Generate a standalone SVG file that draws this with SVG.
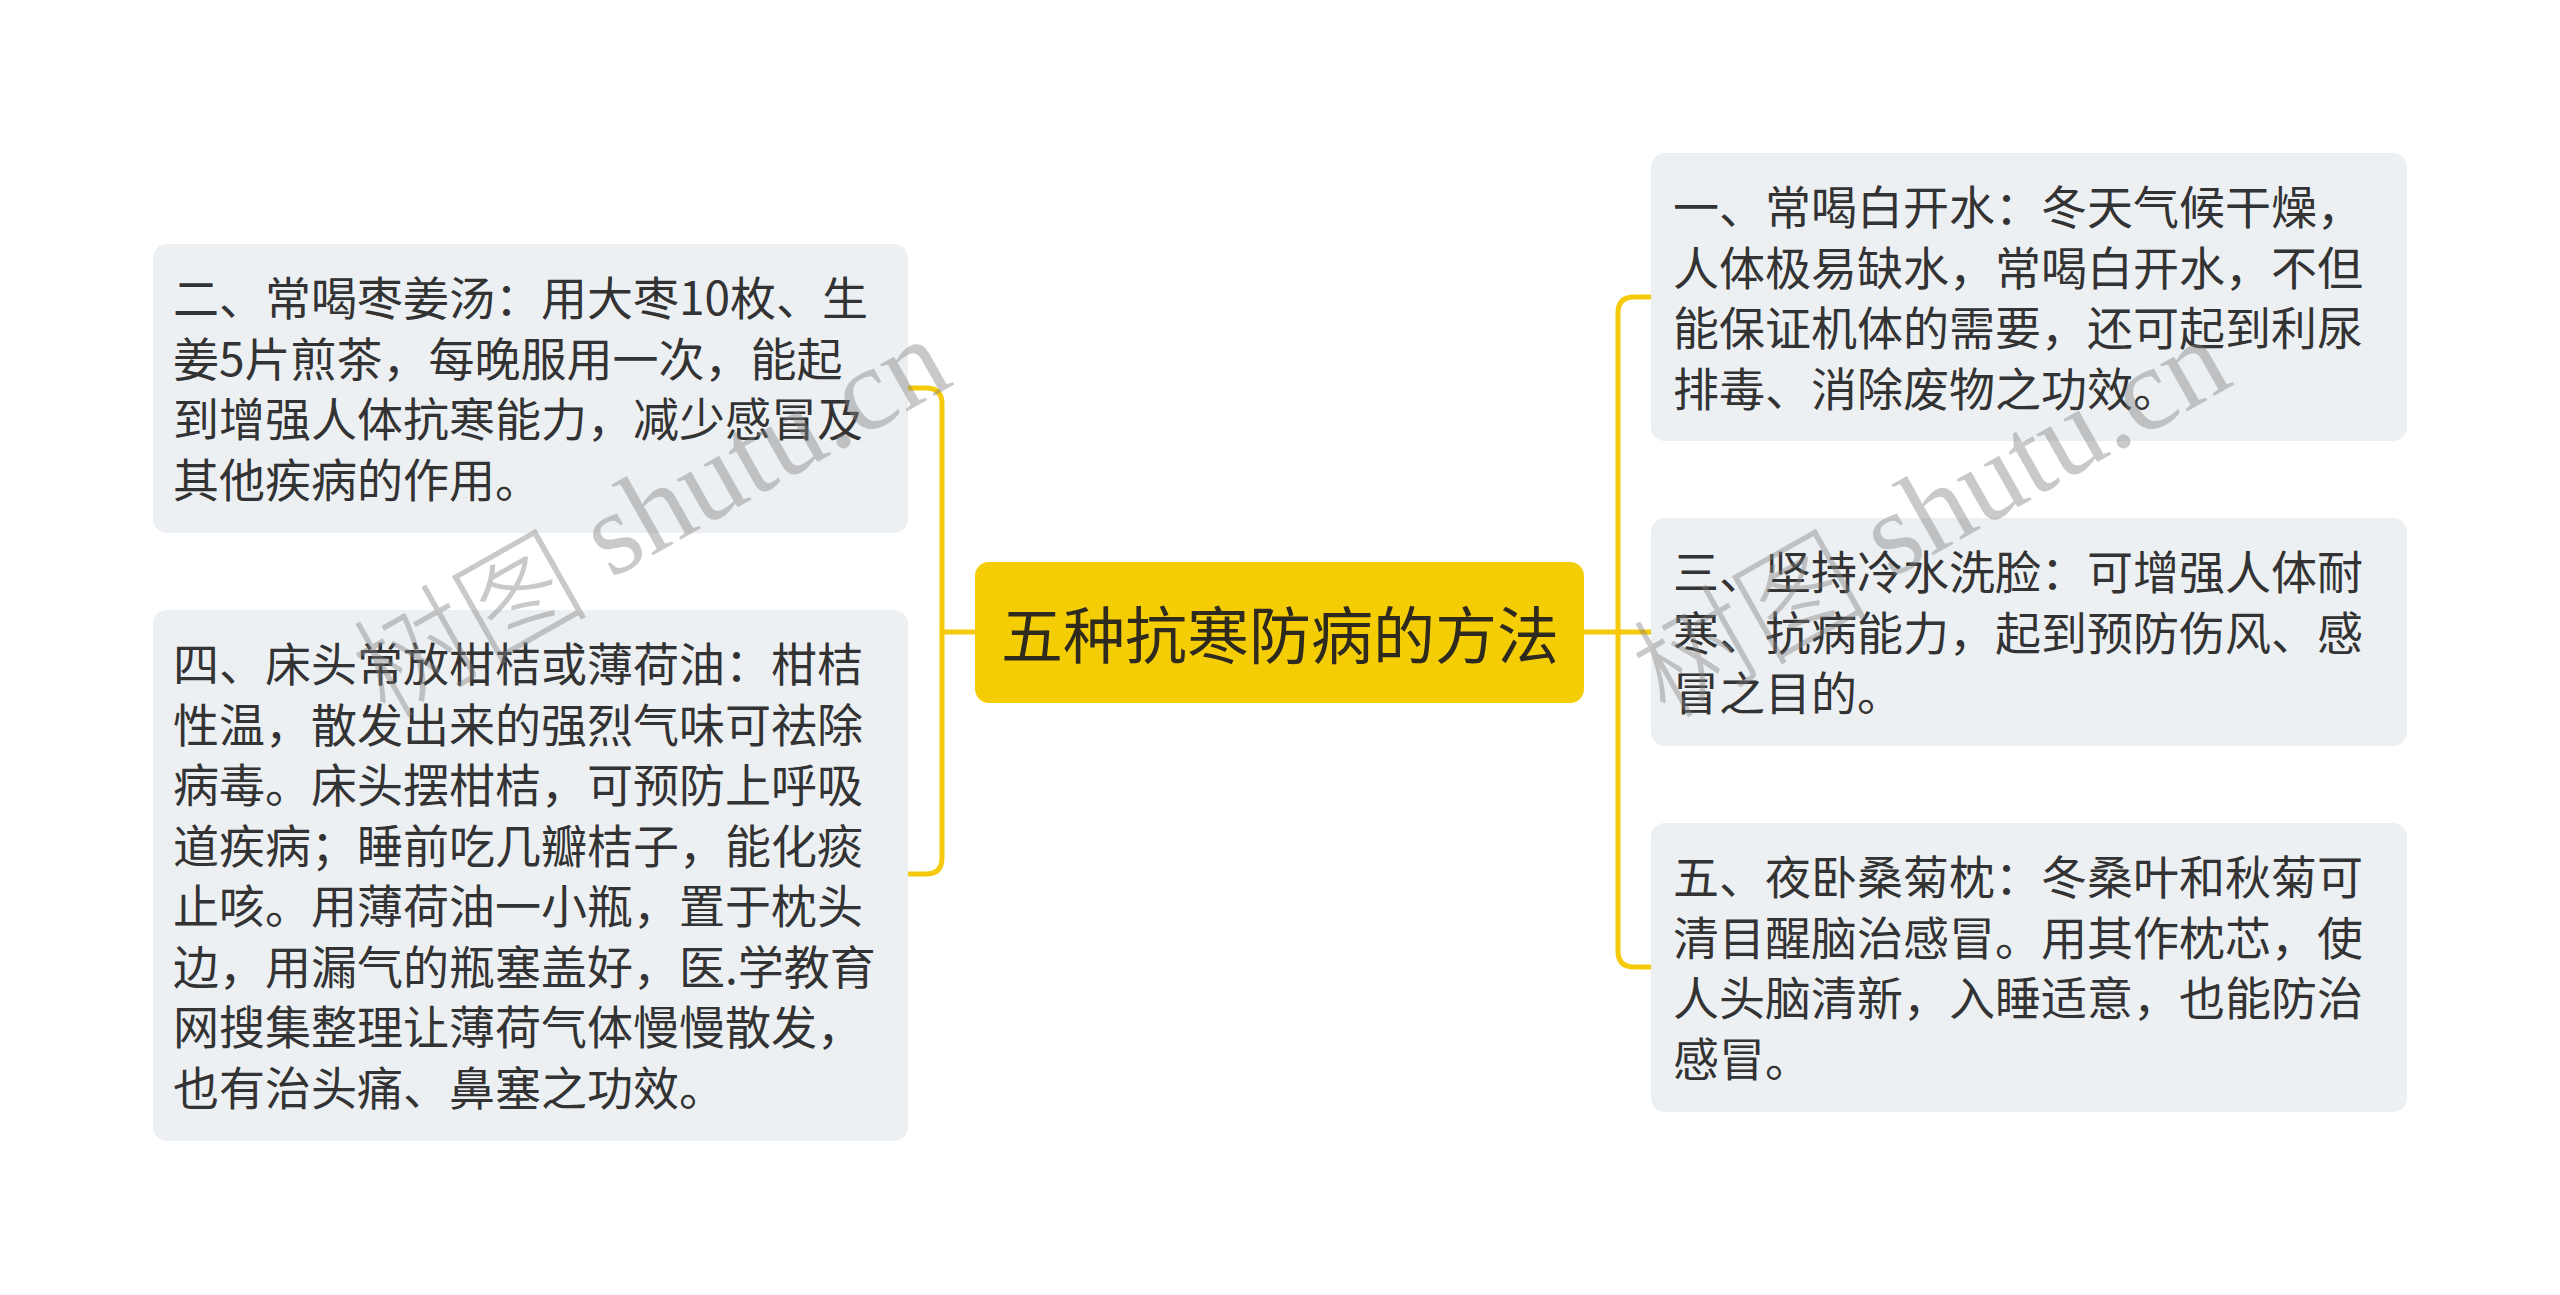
<svg xmlns="http://www.w3.org/2000/svg" width="2560" height="1295" viewBox="0 0 2560 1295">
<style>
.bg{fill:#ffffff}
.box{fill:#EDF0F3}
.root{fill:#F5CD05}
.t{font-family:"Noto Sans CJK SC","Noto Sans",sans-serif;font-size:46px;fill:#333333}
.rt{font-family:"Noto Sans CJK SC","Noto Sans",sans-serif;font-size:62px;fill:#2E2A1E}
.conn{fill:none;stroke:#F5CA0A;stroke-width:5;stroke-linecap:round;stroke-linejoin:round}
.wm{fill:#7f7f7f;opacity:0.42;font-size:118px}
</style>
<rect class="bg" x="0" y="0" width="2560" height="1295"/>
<g id="connectors">
<path class="conn" d="M975,632 H942"/>
<path class="conn" d="M908,388 H926 Q942,388 942,404 V858 Q942,874 926,874 H908"/>
<path class="conn" d="M1584,632 H1651"/>
<path class="conn" d="M1651,297 H1634 Q1618,297 1618,313 V951 Q1618,967 1634,967 H1651"/>
</g>
<g id="root">
<rect class="root" x="975" y="562" width="609" height="141" rx="14"/>
<text class="rt" x="1280" y="632" text-anchor="middle" dominant-baseline="central">五种抗寒防病的方法</text>
</g>
<g id="node-2">
<rect class="box" x="153" y="244" width="755" height="289" rx="14"/>
<text class="t" x="173" y="315">二、常喝枣姜汤：用大枣10枚、生</text>
<text class="t" x="173" y="375.5">姜5片煎茶，每晚服用一次，能起</text>
<text class="t" x="173" y="436">到增强人体抗寒能力，减少感冒及</text>
<text class="t" x="173" y="496.5">其他疾病的作用。</text>
</g>
<g id="node-4">
<rect class="box" x="153" y="610" width="755" height="531" rx="14"/>
<text class="t" x="173" y="681">四、床头常放柑桔或薄荷油：柑桔</text>
<text class="t" x="173" y="741.5">性温，散发出来的强烈气味可祛除</text>
<text class="t" x="173" y="802">病毒。床头摆柑桔，可预防上呼吸</text>
<text class="t" x="173" y="862.5">道疾病；睡前吃几瓣桔子，能化痰</text>
<text class="t" x="173" y="923">止咳。用薄荷油一小瓶，置于枕头</text>
<text class="t" x="173" y="983.5">边，用漏气的瓶塞盖好，医.学教育</text>
<text class="t" x="173" y="1044">网搜集整理让薄荷气体慢慢散发，</text>
<text class="t" x="173" y="1104.5">也有治头痛、鼻塞之功效。</text>
</g>
<g id="node-1">
<rect class="box" x="1651" y="153" width="756" height="288" rx="14"/>
<text class="t" x="1673" y="224">一、常喝白开水：冬天气候干燥，</text>
<text class="t" x="1673" y="284.5">人体极易缺水，常喝白开水，不但</text>
<text class="t" x="1673" y="345">能保证机体的需要，还可起到利尿</text>
<text class="t" x="1673" y="405.5">排毒、消除废物之功效。</text>
</g>
<g id="node-3">
<rect class="box" x="1651" y="518" width="756" height="228" rx="14"/>
<text class="t" x="1673" y="589">三、坚持冷水洗脸：可增强人体耐</text>
<text class="t" x="1673" y="649.5">寒、抗病能力，起到预防伤风、感</text>
<text class="t" x="1673" y="710">冒之目的。</text>
</g>
<g id="node-5">
<rect class="box" x="1651" y="823" width="756" height="289" rx="14"/>
<text class="t" x="1673" y="894">五、夜卧桑菊枕：冬桑叶和秋菊可</text>
<text class="t" x="1673" y="954.5">清目醒脑治感冒。用其作枕芯，使</text>
<text class="t" x="1673" y="1015">人头脑清新，入睡适意，也能防治</text>
<text class="t" x="1673" y="1075.5">感冒。</text>
</g>
<g id="watermarks">
<text class="wm" transform="translate(648,512) rotate(-29.5)" text-anchor="middle" dominant-baseline="central"><tspan font-family="Noto Sans CJK SC, sans-serif" font-weight="300">树图</tspan><tspan font-family="Liberation Serif, serif"> shutu.cn</tspan></text>
<text class="wm" transform="translate(1928,512) rotate(-29.5)" text-anchor="middle" dominant-baseline="central"><tspan font-family="Noto Sans CJK SC, sans-serif" font-weight="300">树图</tspan><tspan font-family="Liberation Serif, serif"> shutu.cn</tspan></text>
</g>
</svg>
